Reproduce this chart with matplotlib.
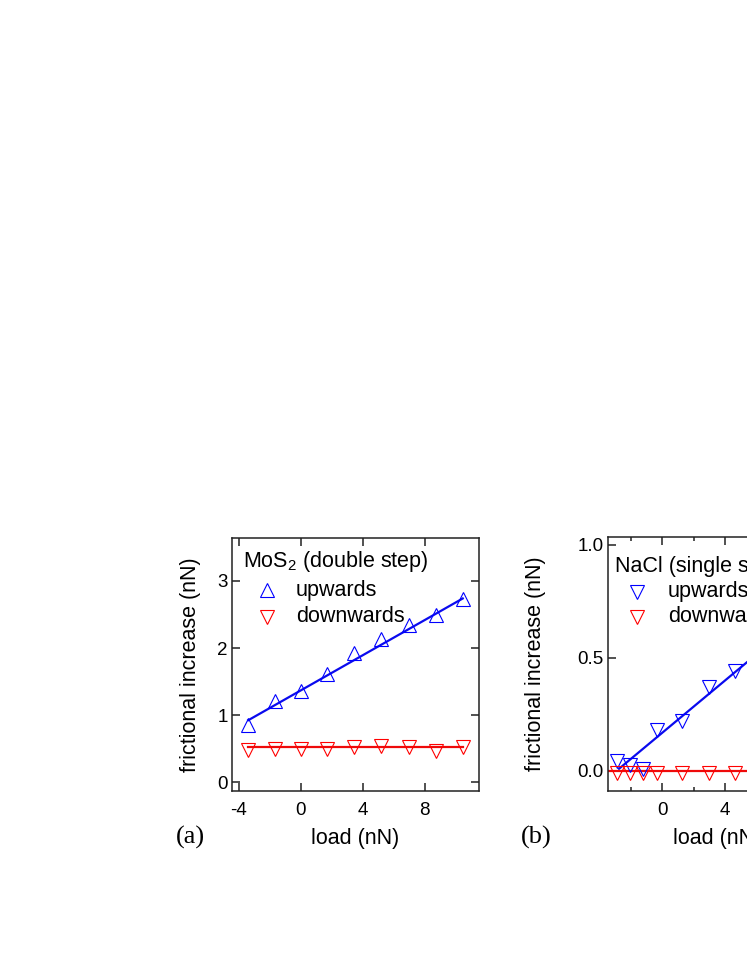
import numpy as np
import matplotlib
matplotlib.use("Agg")
import matplotlib.pyplot as plt
from matplotlib.ticker import MultipleLocator

plt.rcParams.update({
    "font.family": "Liberation Sans",
    "font.size": 13.5,
    "mathtext.fontset": "custom",
    "mathtext.rm": "Liberation Sans",
    "mathtext.it": "Liberation Sans:italic",
})

# panel (a): MoS2 double step
mos2_load = [-3.4, -1.7, 0.0, 1.7, 3.45, 5.2, 6.95, 8.7, 10.45]
mos2_up = [0.85, 1.21, 1.36, 1.61, 1.93, 2.13, 2.34, 2.49, 2.73]
mos2_down = [0.48, 0.49, 0.49, 0.50, 0.53, 0.54, 0.53, 0.47, 0.53]
mos2_up_fit = [0.131, 1.37]     # slope, intercept
mos2_down_fit = [0.0, 0.52]

# panel (b): NaCl single step (only the visible part)
nacl_load = [-2.9, -2.03, -1.2, -0.34, 1.28, 2.97, 4.65]
nacl_up = [0.044, 0.025, 0.006, 0.18, 0.22, 0.37, 0.44]
nacl_down = [-0.012, -0.012, -0.012, -0.012, -0.012, -0.012, -0.012]
nacl_up_fit = [0.058, 0.168]
nacl_down_fit = [0.0, 0.0]

W, H = 747, 967
fig = plt.figure(figsize=(W / 100, H / 100), dpi=100)

LABEL_FS = 15.5
TICK_FS = 13.5
LEG_FS = 15.5


def style_axes(ax):
    for s in ax.spines.values():
        s.set_linewidth(1.1)
        s.set_color("#222222")
    ax.tick_params(which="both", direction="in", top=True, right=True,
                   width=1.1, color="#222222")
    ax.tick_params(which="major", length=6)
    ax.tick_params(which="minor", length=3)
    ax.tick_params(axis="x", pad=8, labelsize=TICK_FS)
    ax.tick_params(axis="y", pad=3, labelsize=TICK_FS)


def fit_line(ax, fit, x0, x1, color):
    xs = np.array([x0, x1])
    ax.plot(xs, fit[0] * xs + fit[1], color=color, lw=1.6, zorder=2)


def legend_block(ax, title, up_marker, x_title, x_mark, x_text, ys):
    ax.text(x_title, ys[0], title, transform=ax.transAxes, fontsize=LEG_FS,
            va="center", ha="left")
    ax.plot([x_mark], [ys[1]], marker=up_marker, ms=9.5, mfc="none", mec="blue",
            mew=0.8, transform=ax.transAxes, clip_on=False)
    ax.plot([x_mark], [ys[2]], marker="v", ms=9.5, mfc="none", mec="red",
            mew=0.8, transform=ax.transAxes, clip_on=False)
    ax.text(x_text, ys[1], "upwards", transform=ax.transAxes, fontsize=LEG_FS,
            va="center", ha="left")
    ax.text(x_text, ys[2], "downwards", transform=ax.transAxes, fontsize=LEG_FS,
            va="center", ha="left")


# ---- (a) ----
axa = fig.add_axes([232 / W, 1 - 791 / H, 247 / W, 253 / H])
fit_line(axa, mos2_up_fit, mos2_load[0], mos2_load[-1], "#0a0aee")
fit_line(axa, mos2_down_fit, mos2_load[0], mos2_load[-1], "#ee0a0a")
axa.plot(mos2_load, mos2_up, ls="none", marker="^", ms=9.5, mfc="none",
         mec="blue", mew=0.8, zorder=3)
axa.plot(mos2_load, mos2_down, ls="none", marker="v", ms=9.5, mfc="none",
         mec="red", mew=0.8, zorder=3)
axa.set_xlim(-4.45, 11.5)
axa.set_ylim(-0.13, 3.64)
axa.set_xticks([-4, 0, 4, 8])
axa.set_xticklabels(["-4", "0", "4", "8"])
axa.set_yticks([0, 1, 2, 3])
style_axes(axa)
axa.set_xlabel("load (nN)", fontsize=LABEL_FS)
axa.set_ylabel("frictional increase (nN)", fontsize=LABEL_FS)
axa.xaxis.set_label_coords(0.5, -0.148)
axa.yaxis.set_label_coords(-0.125, 0.5)
legend_block(axa, "MoS$_2$ (double step)", "^", 0.045, 0.14, 0.259,
             [0.906, 0.794, 0.689])
fig.text(190 / W, 1 - 837 / H, "(a)", family="Liberation Serif",
         fontsize=19, ha="center", va="center")

# ---- (b) ----
axb = fig.add_axes([608 / W, 1 - 790.7 / H, 218 / W, 253.7 / H])
fit_line(axb, nacl_up_fit, -2.75, 10.5, "#0a0aee")
fit_line(axb, nacl_down_fit, -3.45, 10.5, "#ee0a0a")
axb.plot(nacl_load, nacl_up, ls="none", marker="v", ms=9.5, mfc="none",
         mec="blue", mew=0.8, zorder=3)
axb.plot(nacl_load, nacl_down, ls="none", marker="v", ms=9.5, mfc="none",
         mec="red", mew=0.8, zorder=3)
axb.set_xlim(-3.45, 10.4)
axb.set_ylim(-0.0885, 1.034)
axb.set_xticks([0, 4, 8])
axb.xaxis.set_minor_locator(MultipleLocator(2))
axb.set_yticks([0.0, 0.5, 1.0])
axb.set_yticklabels(["0.0", "0.5", "1.0"])
style_axes(axb)
axb.set_xlabel("load (nN)", fontsize=LABEL_FS)
axb.set_ylabel("frictional increase (nN)", fontsize=LABEL_FS)
axb.xaxis.set_label_coords(0.5, -0.148)
axb.yaxis.set_label_coords(-0.283, 0.5)
legend_block(axb, "NaCl (single step)", "v", 0.031, 0.133, 0.274,
             [0.883, 0.784, 0.686])
fig.text(536 / W, 1 - 837 / H, "(b)", family="Liberation Serif",
         fontsize=19, ha="center", va="center")

fig.savefig("out.png", dpi=100)
